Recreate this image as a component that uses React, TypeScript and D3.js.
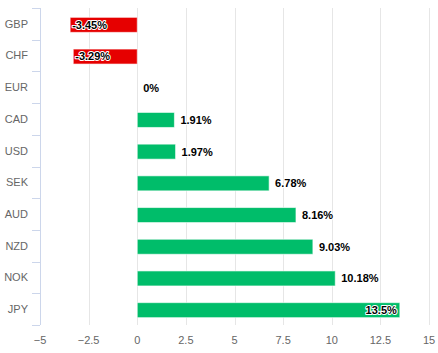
import React, { useRef, useEffect } from 'react';
import * as d3 from 'd3';

// 货币与涨跌幅
const categories = ['GBP', 'CHF', 'EUR', 'CAD', 'USD', 'SEK', 'AUD', 'NZD', 'NOK', 'JPY'];
const values = [-3.45, -3.29, 0, 1.91, 1.97, 6.78, 8.16, 9.03, 10.18, 13.5];
const xTicks = [-5, -2.5, 0, 2.5, 5, 7.5, 10, 12.5, 15];
// 标签放在柱子里面的类别
const insideLabels = ['GBP', 'CHF', 'JPY'];

const App: React.FC = () => {
  const svgRef = useRef<SVGSVGElement>(null);

  const width = 438;
  const height = 353;
  const marginTop = 8;
  const marginBottom = 28;
  const marginLeft = 40;
  const marginRight = 9;
  const font = '"Liberation Sans", Arial, sans-serif';

  useEffect(() => {
    if (!svgRef.current) return;
    const svg = d3.select(svgRef.current);
    svg.selectAll('*').remove();

    const x = d3.scaleLinear().domain([-5, 15]).range([marginLeft, width - marginRight]);
    const y = d3.scaleBand<string>().domain(categories).range([marginTop, height - marginBottom]);

    // 网格线
    svg.append('g')
      .selectAll('line')
      .data(xTicks.slice(1))
      .join('line')
      .attr('x1', (d) => Math.round(x(d)) + 0.5)
      .attr('x2', (d) => Math.round(x(d)) + 0.5)
      .attr('y1', marginTop)
      .attr('y2', height - marginBottom)
      .attr('stroke', '#e6e6e6');

    // y 轴线和刻度
    const yAxis = svg.append('g');
    yAxis.append('line')
      .attr('x1', marginLeft + 0.5)
      .attr('x2', marginLeft + 0.5)
      .attr('y1', marginTop)
      .attr('y2', height - marginBottom)
      .attr('stroke', '#ccd6eb');
    const edges = categories.map((c) => y(c) as number).concat([height - marginBottom]);
    yAxis.selectAll('.tick')
      .data(edges)
      .join('line')
      .attr('class', 'tick')
      .attr('x1', marginLeft - 8)
      .attr('x2', marginLeft)
      .attr('y1', (d) => Math.round(d) + 0.5)
      .attr('y2', (d) => Math.round(d) + 0.5)
      .attr('stroke', '#ccd6eb');
    yAxis.selectAll('text')
      .data(categories)
      .join('text')
      .attr('x', 28)
      .attr('y', (d) => (y(d) as number) + y.bandwidth() / 2)
      .attr('dy', '0.35em')
      .attr('text-anchor', 'end')
      .attr('font-family', font)
      .attr('font-size', 11)
      .attr('fill', '#666')
      .text((d) => d);

    // x 轴标签
    svg.append('g')
      .selectAll('text')
      .data(xTicks)
      .join('text')
      .attr('x', (d) => x(d))
      .attr('y', height - 9)
      .attr('text-anchor', 'middle')
      .attr('font-family', font)
      .attr('font-size', 11)
      .attr('fill', '#666')
      .text((d) => String(d).replace('-', '\u2212'));

    // 柱子
    const barH = 15;
    const rows = categories.map((c, i) => ({ c, v: values[i] }));
    svg.append('g')
      .selectAll('rect')
      .data(rows)
      .join('rect')
      .attr('x', (d) => x(Math.min(0, d.v)))
      .attr('y', (d) => (y(d.c) as number) + y.bandwidth() / 2 - barH / 2 + 1)
      .attr('width', (d) => Math.abs(x(d.v) - x(0)))
      .attr('height', barH)
      .attr('fill', (d) => (d.v < 0 ? '#e60000' : '#00bd6a'))
      .attr('stroke', '#ffffff')
      .attr('stroke-opacity', 0.6)
      .attr('stroke-width', 1);

    // 数值标签
    svg.append('g')
      .selectAll('text')
      .data(rows)
      .join('text')
      .attr('x', (d) => {
        if (!insideLabels.includes(d.c)) return x(d.v) + 6;
        return d.v < 0 ? x(d.v) + 2 : x(d.v) - 3;
      })
      .attr('y', (d) => (y(d.c) as number) + y.bandwidth() / 2 + 1)
      .attr('dy', '0.35em')
      .attr('text-anchor', (d) => (insideLabels.includes(d.c) && d.v > 0 ? 'end' : 'start'))
      .attr('font-family', font)
      .attr('font-size', 11)
      .attr('font-weight', 'bold')
      .attr('fill', '#000')
      .attr('stroke', '#fff')
      .attr('stroke-width', 2)
      .attr('stroke-linejoin', 'round')
      .attr('paint-order', 'stroke')
      .text((d) => `${d.v}%`);
  }, []);

  return (
    <svg
      ref={svgRef}
      width={width}
      height={height}
      style={{ position: 'absolute', left: 0, top: 0, background: '#fff' }}
    />
  );
};

export default App;
